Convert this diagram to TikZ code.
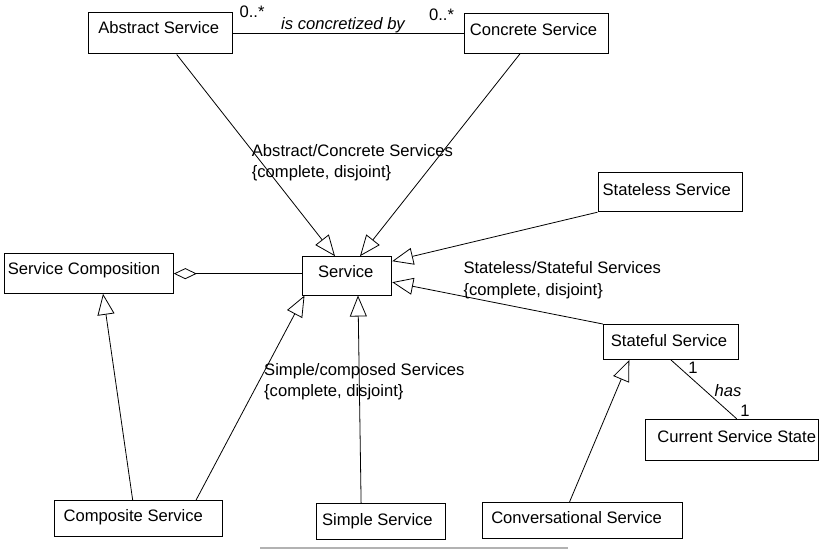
\documentclass[tikz,border=0pt]{standalone}
\usepackage{fontspec}
\setmainfont{Liberation Sans}
\usetikzlibrary{arrows.meta}
\begin{document}
\begin{tikzpicture}[x=1bp,y=-1bp,
  every node/.style={font=\fontsize{16.6bp}{20bp}\selectfont},
  box/.style={draw, line width=1bp, inner sep=0, fill=white},
  txt/.style={inner sep=0, anchor=base},
  lbl/.style={inner sep=0, anchor=base west},
  wire/.style={line width=0.8bp},
  gen/.style={wire, -{Triangle[open, length=21bp, width=17bp, line width=0.8bp]}},
  agg/.style={wire, {Diamond[open, length=23bp, width=11bp, line width=0.8bp]}-},
]
\useasboundingbox (0,0) rectangle (821,552);

% class boxes
\node[box, minimum width=144bp, minimum height=41.3bp] (abs) at (160.3,33.35) {};
\node[box, minimum width=144bp, minimum height=39.3bp] (con) at (536,33.65) {};
\node[box, minimum width=144bp, minimum height=38.7bp] (stl) at (670,192.35) {};
\node[box, minimum width=135bp, minimum height=35bp] (stf) at (670.8,342) {};
\node[box, minimum width=173bp, minimum height=41.4bp] (cur) at (731.5,440) {};
\node[box, minimum width=168.3bp, minimum height=39.3bp] (comp) at (89.15,273.65) {};
\node[box, minimum width=89bp, minimum height=38.3bp] (svc) at (347.2,275.85) {};
\node[box, minimum width=168bp, minimum height=36bp] (cmp) at (138.3,518.7) {};
\node[box, minimum width=129bp, minimum height=36bp] (smp) at (381.1,521.3) {};
\node[box, minimum width=200bp, minimum height=36.4bp] (cnv) at (582.2,520.5) {};

% class names
\node[txt] (abs-t) at (158.7,33.3) {Abstract Service};
\node[txt] (con-t) at (533.5,36) {Concrete Service};
\node[txt] (stl-t) at (666.7,196) {Stateless Service};
\node[txt] (stf-t) at (669,346) {Stateful Service};
\node[txt] (cur-t) at (736.7,442.7) {Current Service State};
\node[txt] (comp-t) at (84,274.3) {Service Composition};
\node[txt] (svc-t) at (345.8,277.7) {Service};
\node[txt] (cmp-t) at (133.3,521.7) {Composite Service};
\node[txt] (smp-t) at (377.4,525) {Simple Service};
\node[txt] (cnv-t) at (576.6,523.7) {Conversational Service};

% association and multiplicities
\draw[wire] (abs.east) -- (abs.east -| con.west);
\node[txt] (m1) at (252,18) {0..*};
\node[txt] (m2) at (441.5,21) {0..*};
\node[txt, font=\fontsize{16.6bp}{20bp}\selectfont\itshape] (rel) at (343,30) {is concretized by};

% generalisations
\draw[gen] ([xshift=16.4bp]abs.south) -- ([xshift=-12.2bp]svc.north);
\draw[gen] ([xshift=-16bp]con.south) -- ([xshift=12.8bp]svc.north);
\draw[gen] (stl.south west) -- ([yshift=-5bp]svc.north east);
\draw[gen] (stf.north west) -- ([yshift=13.3bp]svc.south east);
\draw[gen] ([xshift=57.7bp]cmp.north) -- ([xshift=2.3bp]svc.south west);
\draw[gen] ([xshift=-20bp]smp.north) -- ([xshift=10.8bp]svc.south);
\draw[gen] ([xshift=-5.6bp]cmp.north) -- ([xshift=13.85bp]comp.south);
\draw[gen] ([xshift=-12.6bp]cnv.north) -- ([xshift=-41.5bp]stf.south);

% aggregation
\draw[agg] (comp.east) -- (comp.east -| svc.west);

% has association
\draw[wire] ([xshift=0.2bp]stf.south) -- ([xshift=5.2bp]cur.north);
\node[txt] (h1) at (693,373) {1};
\node[txt, font=\fontsize{16.6bp}{20bp}\selectfont\itshape] (has) at (728,396) {has};
\node[txt] (h2) at (745,416) {1};

% generalisation set labels
\node[lbl] (g1a) at (251.7,156.7) {Abstract/Concrete Services};
\node[lbl] (g1b) at (251.7,177.7) {\{complete, disjoint\}};
\node[lbl] (g2a) at (463.3,273.3) {Stateless/Stateful Services};
\node[lbl] (g2b) at (463.3,295.3) {\{complete, disjoint\}};
\node[lbl] (g3a) at (264,375) {Simple/composed Services};
\node[lbl] (g3b) at (264,396) {\{complete, disjoint\}};

% rule at the foot
\draw[gray!60, line width=1.2bp] (260,548) -- (568,548);
\end{tikzpicture}
\end{document}
